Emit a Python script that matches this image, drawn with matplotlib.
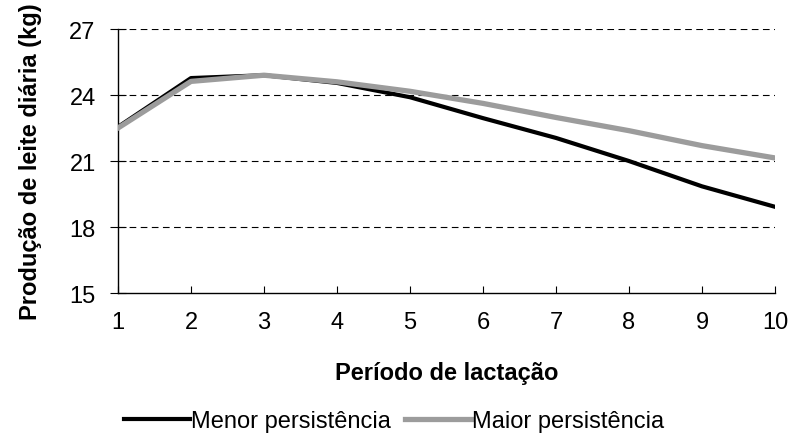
import matplotlib.pyplot as plt

plt.rcParams['font.family'] = ['Liberation Sans', 'DejaVu Sans']

# data
periodo = [1, 2, 3, 4, 5, 6, 7, 8, 9, 10]
menor = [22.55, 24.77, 24.9, 24.55, 23.9, 22.95, 22.05, 21.0, 19.85, 18.92]
maior = [22.5, 24.62, 24.9, 24.6, 24.17, 23.62, 22.98, 22.38, 21.7, 21.14]
y_ticks = [15, 18, 21, 24, 27]

fig = plt.figure(figsize=(7.88, 4.35), dpi=100)
ax = fig.add_axes([0.1497, 0.324, 0.8338, 0.607])

for y in y_ticks[1:]:
    ax.axhline(y, color='black', lw=0.8, ls=(0, (6, 4)), zorder=1)

ax.plot(periodo, menor, color='black', lw=3.0, label='Menor persistência', zorder=3)
ax.plot(periodo, maior, color='#9c9c9c', lw=3.8, label='Maior persistência', zorder=4)

ax.set_xlim(1, 10)
ax.set_ylim(15, 27)
ax.set_xticks(periodo)
ax.set_yticks(y_ticks)
ax.tick_params(axis='x', direction='in', length=5, labelsize=17, pad=13)
ax.tick_params(axis='y', direction='inout', length=12, labelsize=17, pad=10)
for s in ['top', 'right']:
    ax.spines[s].set_visible(False)
ax.spines['left'].set_linewidth(1)
ax.spines['bottom'].set_linewidth(1)

ax.set_xlabel('Período de lactação', fontsize=17, fontweight='bold', labelpad=20)
ax.set_ylabel('Produção de leite diária (kg)', fontsize=17, fontweight='bold', labelpad=20)

fig.legend(loc='lower center', bbox_to_anchor=(0.50, -0.045), ncol=2, frameon=False,
           fontsize=17, handlelength=2.8, handletextpad=0.05, columnspacing=0.6)

fig.savefig('out.png', dpi=100)
